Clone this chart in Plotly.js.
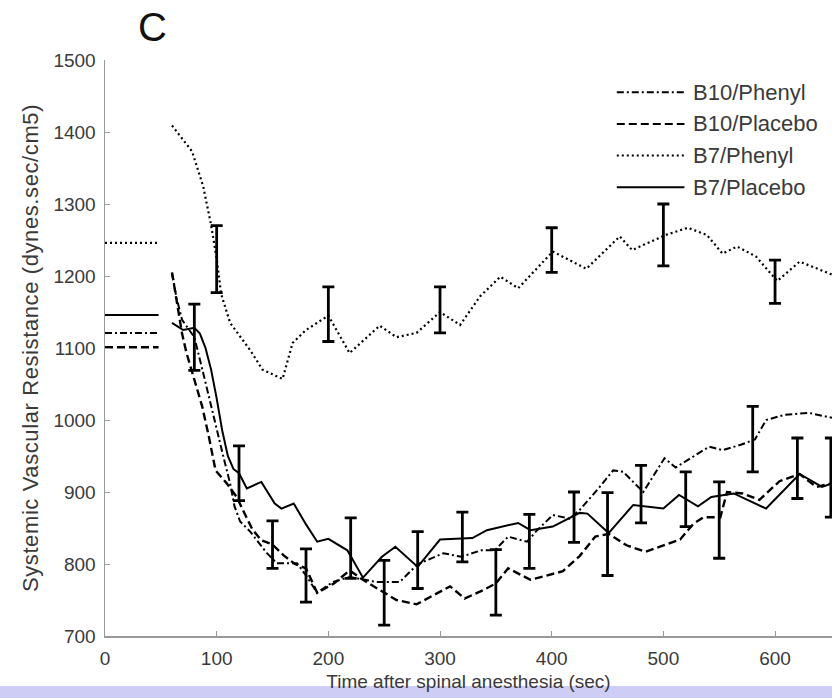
<!DOCTYPE html>
<html>
<head>
<meta charset="utf-8">
<script src="https://cdn.plot.ly/plotly-3.0.1.min.js"></script>
<style>
  html, body { margin: 0; padding: 0; background: #ffffff; }
  #chart { width: 832px; height: 698px; }
  /* slightly tracked-out vertical axis title */
  #chart .ytitle { letter-spacing: 0.6px; }
</style>
</head>
<body>
<div id="chart"></div>
<script>
// Systemic vascular resistance after spinal anesthesia, four treatment groups

const seriesNames = ['B10/Phenyl', 'B10/Placebo', 'B7/Phenyl', 'B7/Placebo'];

// Pre-anesthesia baseline per group, shown as a short segment near t = 0
const baselineSpan = [0, 48];
const baselineValues = [1121, 1101, 1246, 1146];

// B10/Phenyl
const b10PhenylTime = [60, 64, 69, 80, 88, 100, 106, 112, 116, 121, 130, 145, 154, 172, 180, 190, 204, 219, 243, 264, 280, 288, 303, 319, 337, 349, 361, 378, 387, 401, 416, 425, 443, 455, 464, 482, 501, 511, 541, 553, 570, 582, 592, 608, 630, 651];
const b10PhenylSVR  = [1204, 1170, 1139, 1115, 1065, 986, 949, 912, 880, 859, 845, 815, 801, 801, 784, 760, 775, 782, 775, 775, 800, 805, 815, 810, 819, 819, 838, 831, 847, 868, 863, 875, 907, 930, 928, 900, 947, 934, 963, 958, 966, 973, 1000, 1007, 1010, 1003];

// B10/Placebo
const b10PlaceboTime = [60, 65, 69, 73, 79, 87, 93, 99, 109, 118, 125, 132, 140, 150, 160, 170, 180, 190, 205, 219, 231, 251, 261, 279, 297, 309, 322, 339, 350, 361, 381, 410, 425, 439, 451, 467, 484, 503, 515, 527, 536, 551, 557, 571, 586, 604, 622, 637, 651];
const b10PlaceboSVR  = [1205, 1160, 1120, 1093, 1060, 1019, 977, 930, 912, 893, 870, 848, 833, 827, 812, 800, 794, 760, 773, 791, 778, 759, 750, 744, 759, 769, 752, 764, 773, 794, 778, 790, 811, 838, 842, 826, 817, 828, 834, 856, 865, 865, 900, 898, 889, 915, 925, 907, 912];

// B7/Phenyl
const b7PhenylTime = [60, 78, 88, 95, 100, 104, 112, 130, 141, 159, 168, 180, 200, 219, 246, 261, 279, 300, 318, 336, 354, 370, 401, 431, 461, 472, 502, 522, 539, 553, 566, 583, 602, 622, 651];
const b7PhenylSVR  = [1409, 1373, 1324, 1271, 1224, 1175, 1135, 1097, 1070, 1057, 1107, 1125, 1145, 1093, 1131, 1115, 1121, 1150, 1132, 1172, 1199, 1183, 1234, 1210, 1255, 1236, 1257, 1267, 1257, 1231, 1241, 1227, 1193, 1220, 1202];

// B7/Placebo
const b7PlaceboTime = [60, 70, 80, 85, 90, 95, 100, 105, 110, 115, 120, 127, 140, 152, 158, 169, 180, 190, 200, 217, 231, 248, 260, 280, 300, 329, 342, 370, 381, 401, 425, 432, 451, 473, 500, 514, 531, 543, 563, 592, 622, 642, 651];
const b7PlaceboSVR  = [1135, 1125, 1128, 1120, 1100, 1070, 1030, 985, 950, 932, 926, 905, 914, 884, 877, 884, 855, 831, 835, 819, 781, 810, 824, 796, 834, 836, 847, 857, 847, 852, 871, 870, 843, 882, 877, 896, 880, 893, 898, 877, 925, 907, 912];

// Error bars: sample times with upper and lower ends
const b10PhenylErrTime  = [80, 180, 280, 380, 480, 580];
const b10PhenylErrHigh  = [1161, 821, 845, 869, 937, 1019];
const b10PhenylErrLow   = [1069, 747, 766, 794, 857, 928];

const b10PlaceboErrTime = [150, 250, 350, 450, 550, 650];
const b10PlaceboErrHigh = [860, 805, 820, 899, 914, 975];
const b10PlaceboErrLow  = [794, 715, 729, 784, 808, 865];

const b7PhenylErrTime   = [100, 200, 300, 400, 500, 600];
const b7PhenylErrHigh   = [1270, 1185, 1185, 1267, 1300, 1222];
const b7PhenylErrLow    = [1177, 1109, 1121, 1205, 1214, 1162];

const b7PlaceboErrTime  = [120, 220, 320, 420, 520, 620];
const b7PlaceboErrHigh  = [964, 864, 872, 900, 928, 975];
const b7PlaceboErrLow   = [888, 780, 803, 830, 852, 891];

// Axis ticks
const xTicks = [0, 100, 200, 300, 400, 500, 600];
const yTicks = [700, 800, 900, 1000, 1100, 1200, 1300, 1400, 1500];

// Line styles per group (same order as seriesNames)
const dashes = ['7px,3px,2px,3px', '8px,4px', '2px,3px', 'solid'];
const widths = [2, 2.4, 2.2, 2];

const groups = [
  { t: b10PhenylTime,  v: b10PhenylSVR,  et: b10PhenylErrTime,  eh: b10PhenylErrHigh,  el: b10PhenylErrLow },
  { t: b10PlaceboTime, v: b10PlaceboSVR, et: b10PlaceboErrTime, eh: b10PlaceboErrHigh, el: b10PlaceboErrLow },
  { t: b7PhenylTime,   v: b7PhenylSVR,   et: b7PhenylErrTime,   eh: b7PhenylErrHigh,   el: b7PhenylErrLow },
  { t: b7PlaceboTime,  v: b7PlaceboSVR,  et: b7PlaceboErrTime,  eh: b7PlaceboErrHigh,  el: b7PlaceboErrLow }
];

const traces = [];
groups.forEach((g, i) => {
  const line = { color: '#000000', width: widths[i], dash: dashes[i] };
  // baseline segment
  traces.push({
    type: 'scatter', mode: 'lines', x: baselineSpan,
    y: [baselineValues[i], baselineValues[i]],
    line: line, showlegend: false, hoverinfo: 'skip'
  });
  // time course
  traces.push({
    type: 'scatter', mode: 'lines', x: g.t, y: g.v, name: seriesNames[i],
    line: line, showlegend: false
  });
  // error bars
  const mid = g.eh.map((h, k) => (h + g.el[k]) / 2);
  traces.push({
    type: 'scatter', mode: 'markers', x: g.et, y: mid,
    marker: { size: 1, color: 'rgba(0,0,0,0)' },
    error_y: {
      type: 'data', symmetric: false,
      array: g.eh.map((h, k) => h - mid[k]),
      arrayminus: g.el.map((l, k) => mid[k] - l),
      color: '#000000', thickness: 2.8, width: 6
    },
    showlegend: false, hoverinfo: 'skip'
  });
});

// Legend drawn as paper-referenced sample lines plus labels
const legendRows = [0.944, 0.889, 0.834, 0.779];
const shapes = [];
const annotations = [];
seriesNames.forEach((nm, i) => {
  shapes.push({
    type: 'line', xref: 'paper', yref: 'paper',
    x0: 0.704, x1: 0.797, y0: legendRows[i], y1: legendRows[i],
    line: { color: '#000000', width: 2, dash: dashes[i] }
  });
  annotations.push({
    xref: 'paper', yref: 'paper', x: 0.806, y: legendRows[i],
    xanchor: 'left', yanchor: 'middle', showarrow: false, text: nm,
    font: { family: 'Liberation Sans, Arial, sans-serif', size: 22, color: '#3a3a3a' }
  });
});

// Panel letter
annotations.push({
  xref: 'paper', yref: 'paper', x: 0.066, y: 1.057,
  xanchor: 'center', yanchor: 'middle', showarrow: false, text: 'C',
  font: { family: 'Liberation Sans, Arial, sans-serif', size: 40, color: '#111111' }
});

// Lavender band along the bottom edge
shapes.push({
  type: 'rect', xref: 'paper', yref: 'paper', layer: 'above',
  x0: -0.2, x1: 1.0, y0: -0.108, y1: -0.087,
  fillcolor: '#cdcdf6', line: { width: 0 }
});

const axisFont = { family: 'Liberation Sans, Arial, sans-serif', size: 19, color: '#3a3a3a' };

const layout = {
  width: 832, height: 698,
  margin: { l: 105, r: 0, t: 60, b: 62 },
  paper_bgcolor: '#ffffff', plot_bgcolor: '#ffffff',
  showlegend: false,
  xaxis: {
    range: [0, 651], tickvals: xTicks, ticks: 'inside', ticklen: 5,
    tickcolor: '#999999', showline: true, linecolor: '#999999', linewidth: 1.5,
    showgrid: false, zeroline: false, tickfont: axisFont, ticklabelstandoff: 5,
    title: { text: 'Time after spinal anesthesia (sec)', font: axisFont, standoff: 6 }
  },
  yaxis: {
    range: [700, 1500], tickvals: yTicks, ticks: 'inside', ticklen: 5,
    tickcolor: '#999999', showline: true, linecolor: '#999999', linewidth: 1.5,
    showgrid: false, zeroline: false, tickfont: axisFont, ticklabelstandoff: 4,
    title: { text: 'Systemic Vascular Resistance (dynes.sec/cm5)',
             font: { family: 'Liberation Sans, Arial, sans-serif', size: 22, color: '#3a3a3a' }, standoff: 8 }
  },
  shapes: shapes,
  annotations: annotations
};

Plotly.newPlot('chart', traces, layout, { staticPlot: true, displayModeBar: false });
</script>
</body>
</html>
